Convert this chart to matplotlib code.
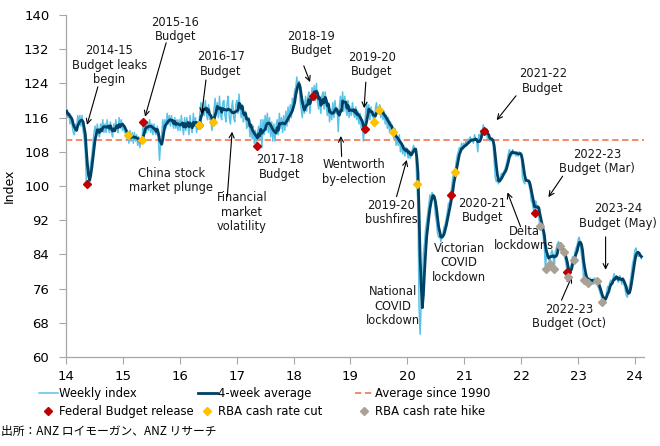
import matplotlib.pyplot as plt
import pandas as pd

# weekly index readings, one row per year (weeks start Monday 6 Jan 2014)
w2014 = [117.5, 116, 117, 114.5, 116.5, 114, 112.5, 112, 114.5, 113,
         116.5, 114.5, 116.5, 114, 116.5, 113, 111, 108, 100.5, 99.8,
         101.5, 103.5, 105.5, 107, 110, 112.5, 114, 111.5, 114.5, 112.5,
         111.5, 114.5, 113, 115.5, 112.5, 114.5, 112.5, 115.5, 113.5, 112.5,
         115, 112.5, 111.5, 114.5, 113, 115.5, 113.5, 112.5, 116, 113.5,
         115.5, 113]
w2015 = [114.5, 112.5, 113, 111, 112, 110, 113, 110.5, 112.5, 110,
         112.5, 110.5, 112, 109.5, 111.5, 109, 111, 110.8, 114.9, 112.5,
         115, 112.5, 115, 113, 115.5, 112.5, 114.5, 112, 114.5, 112.5,
         112, 114, 111, 106, 110, 112, 115.5, 113, 115.5, 113.5,
         117, 114.5, 116.5, 114, 116.5, 114.5, 113.5, 116, 113.5, 115.5,
         113, 115.5]
w2016 = [113, 116.5, 114, 112, 116, 113, 116, 114.5, 112, 116.5,
         113.5, 112.5, 117, 114, 116, 112.5, 114.5, 114.2, 117, 119.5,
         116, 119.5, 116.5, 120, 117, 115.5, 119, 115.5, 116, 113,
         114.9, 118, 120.5, 116.5, 119.5, 116, 121, 116.5, 115.5, 119.5,
         120, 116.5, 115, 119.5, 121, 116, 114.5, 118, 120, 116,
         115, 119]
w2017 = [120, 117, 121.5, 118, 116, 119, 115, 116.5, 117.5, 113.5,
         115, 116, 111.5, 114.5, 111, 114, 110, 113, 109.4, 112.5,
         114, 111, 115.5, 109, 115.5, 112, 116.5, 113, 117, 112.5,
         116, 111.5, 115, 110.5, 114.5, 110.5, 114, 115.5, 112, 117,
         113.5, 116, 112.5, 116.5, 113, 117.5, 114, 118.5, 115, 119,
         116, 120.5]
w2018 = [119, 122.5, 123, 125.5, 123, 124.5, 120, 118, 116, 120,
         117, 121, 117.5, 120.5, 122, 117, 120.5, 123, 121.1, 123.5,
         120, 124, 119.5, 118, 121, 117, 121, 122, 118, 122,
         118.5, 116.5, 119.5, 115, 118, 115.5, 119.5, 116, 120, 117,
         118, 112.7, 118.5, 121, 118, 122, 117.5, 121, 118, 116.5,
         120, 116]
w2019 = [118.5, 116.5, 119.5, 117, 116, 118.5, 115.5, 117.5, 114.5, 117,
         113.5, 115.5, 110.5, 113.3, 117, 119.5, 116.5, 119, 115.5, 118.5,
         116.5, 116, 114.9, 118, 119.5, 117, 117.8, 119, 116, 118,
         115.5, 117.5, 114.5, 116.5, 113.5, 116, 112.5, 115, 112.5, 112.6,
         111, 113.5, 109.5, 111.5, 109.5, 112, 108, 110, 107.5, 109.5,
         107, 109]
w2020 = [108.5, 106.5, 108, 106.5, 108, 108.5, 109.5, 108.5, 108, 100.5,
         95.9, 72.2, 65.3, 72.4, 76.2, 84.2, 86.4, 89.9, 91.7, 93.6,
         95.6, 97.9, 97.3, 98.5, 97.5, 96.7, 93.1, 91.7, 88.9, 88,
         88.5, 87, 88.5, 89, 90.5, 91, 92.5, 94, 96, 95.5,
         97.9, 100, 102, 103, 103.2, 105.5, 107, 108, 109, 108,
         110, 108.5]
w2021 = [110, 109, 110.5, 109.5, 111, 110, 111.5, 110.5, 111, 110,
         112, 111, 110.5, 108, 112, 111.5, 113, 112, 114.3, 112.8,
         113.5, 112, 111, 111.5, 110.5, 111, 111, 110, 106, 102,
         101, 101.5, 100.5, 101.5, 102.5, 103, 102.5, 103.5, 104, 105,
         106, 107.5, 108.5, 108, 107, 108.5, 107.5, 108, 107, 108,
         107, 108]
w2022 = [107.5, 106.5, 102, 101, 100.5, 102, 101.5, 101, 100, 99,
         96.5, 96, 94.5, 93.6, 96.5, 95.5, 95, 92.5, 90.6, 90.5,
         90, 88, 86, 80.5, 84, 84.5, 83.5, 81.8, 84, 85,
         84, 80.5, 84.5, 85.5, 86.5, 87, 86, 86.5, 85, 84,
         84.6, 83, 81.5, 80, 78.8, 80.5, 81, 82, 83.5, 82.8,
         84.5, 85.5]
w2023 = [86, 87.5, 88, 86, 84, 82, 78, 79.5, 78.5, 78,
         77.2, 78, 78.5, 77.5, 78, 77, 78.5, 78, 77.8, 76.5,
         76, 75, 74.5, 72.9, 73.5, 74, 73.5, 75, 76.5, 76,
         77.5, 78, 77, 78.5, 79.5, 78, 79, 78, 77.5, 79,
         78.5, 77, 78.5, 77, 76, 74.5, 74, 75, 76.5, 78,
         80, 82]
w2024 = [83, 85, 85.5, 84, 83.5, 84, 83.5, 83]

avg_since_1990 = 110.8

budget_dates = ['2014-05-13', '2015-05-12', '2016-05-03', '2017-05-09', '2018-05-08',
                '2019-04-02', '2020-10-06', '2021-05-11', '2022-03-29', '2022-10-25']
budget_vals = [100.5, 114.9, 114.2, 109.4, 121.1, 113.3, 97.9, 112.8, 93.6, 80.0]

cut_dates = ['2015-02-03', '2015-05-05', '2016-05-03', '2016-08-02', '2019-06-04',
             '2019-07-02', '2019-10-01', '2020-03-03', '2020-11-03']
cut_vals = [111.9, 110.8, 114.2, 114.9, 114.9, 117.8, 112.6, 100.5, 103.2]

hike_dates = ['2022-05-03', '2022-06-07', '2022-07-05', '2022-08-02', '2022-09-06',
              '2022-10-04', '2022-11-01', '2022-12-06', '2023-02-07', '2023-03-07',
              '2023-05-02', '2023-06-06']
hike_vals = [90.6, 80.5, 81.8, 80.5, 86.0, 84.6, 78.8, 82.8, 78.0, 77.2, 77.8, 72.9]

# label text, text centre (x, y), arrow start, arrow tip
notes = [
    ('2014-15\nBudget leaks\nbegin', (14.76, 128.3), (14.56, 123.2), (14.37, 114.3)),
    ('2015-16\nBudget', (15.92, 136.6), (15.76, 133.5), (15.39, 116.2)),
    ('2016-17\nBudget', (16.72, 128.5), (16.46, 124.8), (16.385, 116.8)),
    ('2018-19\nBudget', (18.31, 133.3), (18.18, 128.1), (18.29, 124.3)),
    ('2019-20\nBudget', (19.38, 128.4), (19.27, 124.3), (19.24, 118.2)),
    ('2017-18\nBudget', (17.76, 104.4), None, None),
    ('Wentworth\nby-election', (19.06, 103.3), (18.845, 106.9), (18.83, 111.7)),
    ('China stock\nmarket plunge', (15.85, 101.3), None, None),
    ('Financial\nmarket\nvolatility', (17.09, 93.9), (16.835, 97.5), (16.92, 112.7)),
    ('2019-20\nbushfires', (19.72, 93.8), (19.81, 97.5), (19.99, 106.1)),
    ('National\nCOVID\nlockdown', (19.75, 71.9), None, None),
    ('Victorian\nCOVID\nlockdown', (20.91, 82.0), None, None),
    ('2020-21\nBudget', (21.32, 94.3), None, None),
    ('Delta\nlockdowns', (22.05, 87.7), (21.99, 90.5), (21.76, 98.5)),
    ('2021-22\nBudget', (22.38, 124.6), (21.91, 121.1), (21.57, 115.4)),
    ('2022-23\nBudget (Mar)', (23.33, 105.7), (22.73, 102.3), (22.48, 97.4)),
    ('2023-24\nBudget (May)', (23.71, 93.0), (23.485, 88.1), (23.485, 80.4)),
    ('2022-23\nBudget (Oct)', (22.84, 69.5), (22.71, 73.3), (22.89, 78.8)),
]


def to_x(d):
    d = pd.to_datetime(d)
    return d.year - 2000 + (d.dayofyear - 1) / 365.25


weekly = w2014 + w2015 + w2016 + w2017 + w2018 + w2019 + w2020 + w2021 + w2022 + w2023 + w2024
dates = pd.date_range('2014-01-06', periods=len(weekly), freq='7D')
xw = to_x(dates)
avg4 = pd.Series(weekly).rolling(4, min_periods=1).mean()

LIGHT = '#5BC2E7'
DARK = '#004165'
AVG = '#F4805F'
RED = '#C00000'
YEL = '#FFC000'
GREY = '#A9A096'
AXC = '#A6A6A6'

fig = plt.figure(figsize=(6.6, 4.46), dpi=100)
ax = fig.add_axes([66 / 660, 1 - 357 / 446, 578 / 660, 342 / 446])

l_avg = ax.axhline(avg_since_1990, color=AVG, lw=1.3, ls=(0, (3.5, 2)), zorder=1)
l_w, = ax.plot(xw, weekly, color=LIGHT, lw=1.1, zorder=2)
l_4, = ax.plot(xw, avg4, color=DARK, lw=2.0, zorder=3)
m_b, = ax.plot(to_x(budget_dates), budget_vals, 'D', color=RED, ms=4.2, ls='none', zorder=4)
m_c, = ax.plot(to_x(cut_dates), cut_vals, 'D', color=YEL, ms=4.2, ls='none', zorder=5)
m_h, = ax.plot(to_x(hike_dates), hike_vals, 'D', color=GREY, ms=4.2, ls='none', zorder=5)

for txt, pos, start, tip in notes:
    ax.text(pos[0], pos[1], txt, ha='center', va='center', fontsize=8.3,
            color='#1a1a1a', linespacing=1.15, zorder=6)
    if start is not None:
        ax.annotate('', xy=tip, xytext=start,
                    arrowprops=dict(arrowstyle='->', color='black', lw=0.8,
                                    shrinkA=0, shrinkB=0, mutation_scale=9))

ax.set_xlim(14, 24.16)
ax.set_ylim(60, 140)
ax.set_xticks(range(14, 25))
ax.set_yticks(range(60, 141, 8))
ax.set_ylabel('Index', fontsize=9, labelpad=6)

for s in ['top', 'right']:
    ax.spines[s].set_visible(False)
for s in ['left', 'bottom']:
    ax.spines[s].set_color(AXC)
    ax.spines[s].set_linewidth(0.9)
ax.tick_params(axis='both', direction='out', length=5, color=AXC, labelsize=9.5)
ax.tick_params(axis='y', pad=7)
ax.tick_params(axis='x', pad=4)

leg_kw = dict(loc='upper left', frameon=False, fontsize=8.4, borderpad=0,
              borderaxespad=0, handlelength=1.6, handletextpad=0.15, labelspacing=0.45)
fig.legend([l_w, m_b], ['Weekly index', 'Federal Budget release'],
           bbox_to_anchor=(0.059, 0.132), **leg_kw)
fig.legend([l_4, m_c], ['4-week average', 'RBA cash rate cut'],
           bbox_to_anchor=(0.300, 0.132), **leg_kw)
fig.legend([l_avg, m_h], ['Average since 1990', 'RBA cash rate hike'],
           bbox_to_anchor=(0.538, 0.132), **leg_kw)

fig.text(0.002, 1 - 431 / 446, '出所：ANZ ロイモーガン、ANZ リサーチ', fontsize=8.5,
         family=['Noto Sans CJK JP', 'DejaVu Sans'], va='center', ha='left')

fig.savefig('out.png', dpi=100)
